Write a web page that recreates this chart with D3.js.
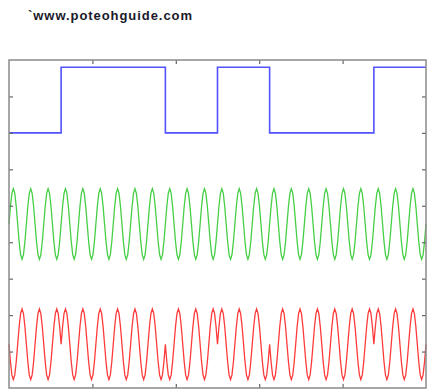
<!DOCTYPE html>
<html>
<head>
<meta charset="utf-8">
<script src="https://cdn.jsdelivr.net/npm/d3@7"></script>
<style>
  html, body { margin: 0; padding: 0; background: #ffffff; }
  svg { display: block; }
</style>
</head>
<body>
<script>
// Binary data stream and its BPSK modulation
const bits = [0, 1, 1, 0, 1, 0, 0, 1];
const squareLevels = [2.0, 3.8];          // level for bit 0, bit 1
const cyclesPerBit = 3;
// one carrier period, sampled
const carrierCycle = [0, 0.48, 0.84, 0.97, 0.84, 0.48, 0, -0.48, -0.84, -0.97, -0.84, -0.48];
const carrierOffset = -0.5;
const bpskOffset = -3.8;
const xDomain = [0, 1];
const yDomain = [-5, 4];
const xTicks = [0.2, 0.4, 0.6, 0.8];
const yTicks = [-4, -3, -2, -1, 0, 1, 2, 3];
const siteLabel = "`www.poteohguide.com";

(function draw() {
  const W = 427, H = 390;
  const mLeft = 9, mRight = 426, mTop = 60, mBottom = 388;

  const svg = d3.select("body").append("svg").attr("width", W).attr("height", H);

  const x = d3.scaleLinear().domain(xDomain).range([mLeft, mRight]);
  const y = d3.scaleLinear().domain(yDomain).range([mBottom, mTop]);

  // header text
  svg.append("text")
    .attr("x", 28).attr("y", 20)
    .attr("font-family", "Liberation Sans, Arial, sans-serif")
    .attr("font-size", 13).attr("font-weight", "bold")
    .attr("fill", "#1a1a2a")
    .attr("textLength", 164).attr("lengthAdjust", "spacing")
    .text(siteLabel);

  // series
  const nBits = bits.length;
  const bitDur = (xDomain[1] - xDomain[0]) / nBits;

  const squarePts = bits.map((b, i) => ({ t: i * bitDur, v: squareLevels[b] }));
  squarePts.push({ t: xDomain[1], v: squareLevels[bits[nBits - 1]] });

  const carrierPts = [], bpskPts = [];
  const n = carrierCycle.length;
  bits.forEach((b, i) => {
    const sign = b === 1 ? 1 : -1;
    for (let c = 0; c < cyclesPerBit; c++) {
      carrierCycle.forEach((s, k) => {
        const t = (i * cyclesPerBit + c + k / n) * bitDur / cyclesPerBit;
        carrierPts.push({ t, v: carrierOffset + s });
        bpskPts.push({ t, v: bpskOffset + sign * s });
      });
    }
  });
  carrierPts.push({ t: xDomain[1], v: carrierOffset + carrierCycle[0] });
  bpskPts.push({ t: xDomain[1], v: bpskOffset + carrierCycle[0] });

  const line = d3.line().x(d => x(d.t)).y(d => y(d.v));
  const stepLine = d3.line().x(d => x(d.t)).y(d => y(d.v)).curve(d3.curveStepAfter);

  const plot = svg.append("g");
  plot.append("path").datum(carrierPts).attr("d", line)
    .attr("fill", "none").attr("stroke", "#45cf45").attr("stroke-width", 1.3);
  plot.append("path").datum(bpskPts).attr("d", line)
    .attr("fill", "none").attr("stroke", "#ff3a3a").attr("stroke-width", 1.3);
  plot.append("path").datum(squarePts).attr("d", stepLine)
    .attr("fill", "none").attr("stroke", "#5252ff").attr("stroke-width", 1.6);

  // axes box with inward ticks, no labels
  const axisColor = "#8a8a8a";
  const tick = 4;
  svg.append("g").attr("transform", `translate(0,${mBottom})`)
    .call(d3.axisTop(x).tickValues(xTicks).tickSize(tick).tickFormat(""))
    .call(g => g.select(".domain").remove());
  svg.append("g").attr("transform", `translate(0,${mTop})`)
    .call(d3.axisBottom(x).tickValues(xTicks).tickSize(tick).tickFormat(""))
    .call(g => g.select(".domain").remove());
  svg.append("g").attr("transform", `translate(${mLeft},0)`)
    .call(d3.axisRight(y).tickValues(yTicks).tickSize(tick).tickFormat(""))
    .call(g => g.select(".domain").remove());
  svg.append("g").attr("transform", `translate(${mRight},0)`)
    .call(d3.axisLeft(y).tickValues(yTicks).tickSize(tick).tickFormat(""))
    .call(g => g.select(".domain").remove());
  svg.selectAll(".tick line").attr("stroke", "#666").attr("stroke-width", 1.2);

  svg.append("rect")
    .attr("x", mLeft).attr("y", mTop)
    .attr("width", mRight - mLeft).attr("height", mBottom - mTop)
    .attr("fill", "none").attr("stroke", axisColor).attr("stroke-width", 1.5);
})();
</script>
</body>
</html>
